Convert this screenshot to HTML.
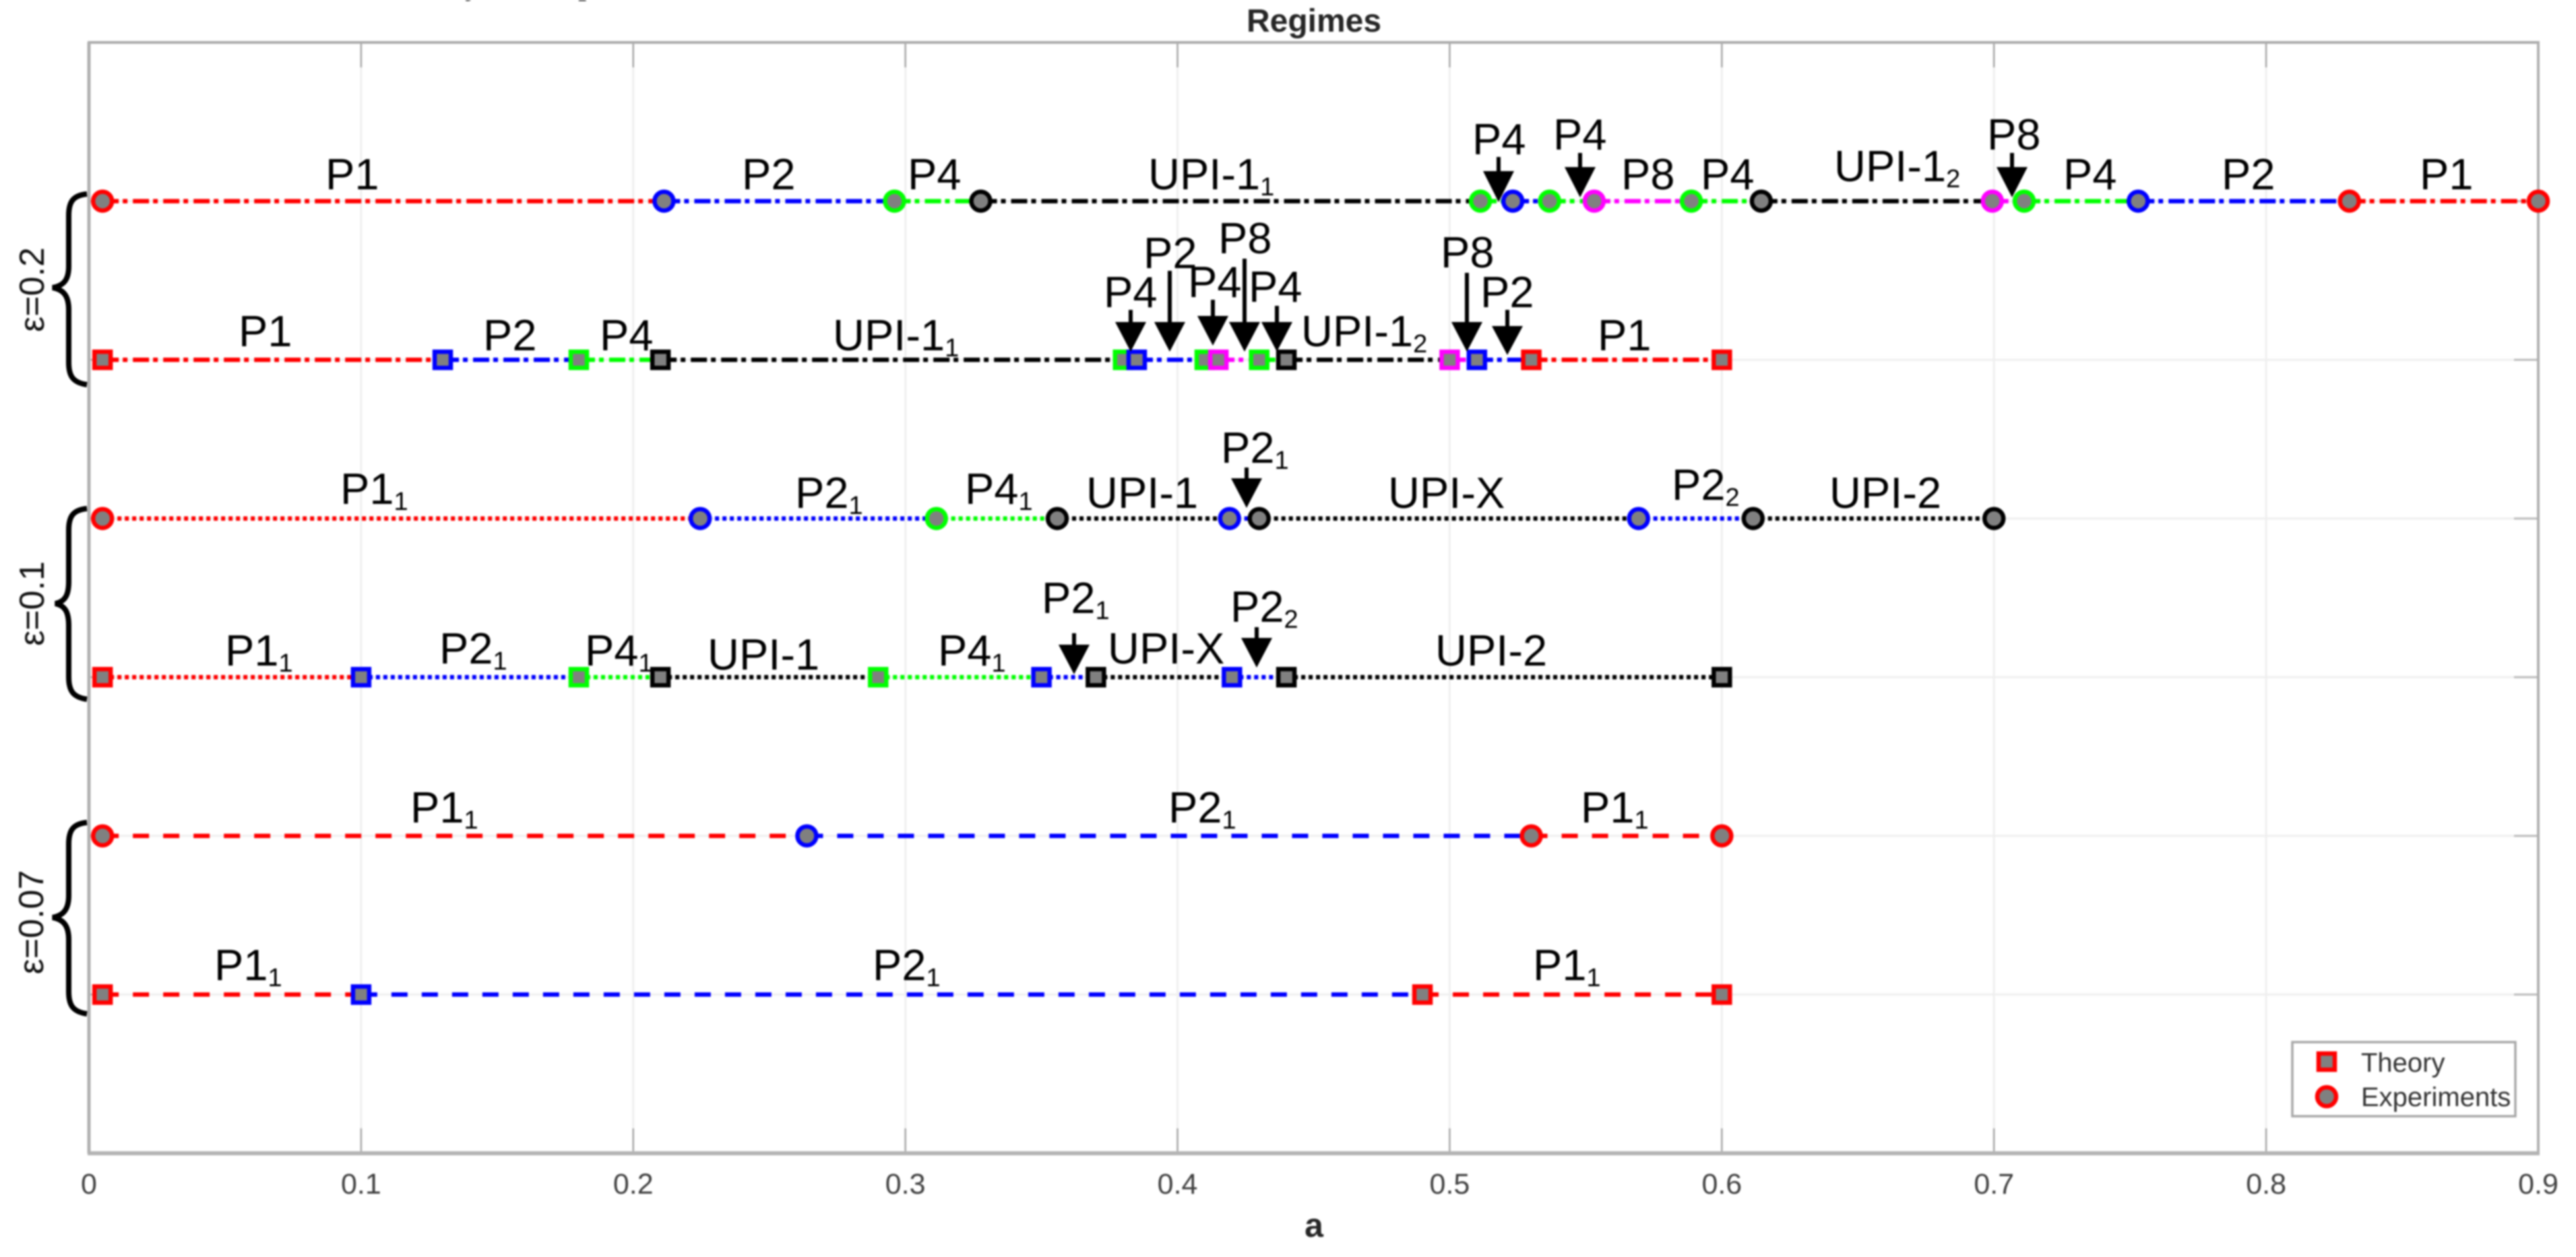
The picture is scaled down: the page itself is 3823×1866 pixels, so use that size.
<!DOCTYPE html>
<html>
<head>
<meta charset="utf-8">
<title>Regimes</title>
<style>
html,body{margin:0;padding:0;background:#fff;width:3823px;height:1866px;overflow:hidden}
svg{display:block;filter:blur(1.4px)}
text{font-family:"Liberation Sans",sans-serif}
.lab{font-size:65px;fill:#000}
.lab tspan{font-size:38px}
.eps{font-size:52px;fill:#111}
.leg{font-size:40px;fill:#333}
</style>
</head>
<body>
<svg id="chart" xmlns="http://www.w3.org/2000/svg" width="3823" height="1866" viewBox="0 0 3823 1866">
  <text x="690" y="-9" font-size="50" style="font-family:'Liberation Serif',serif">y</text>
  <text x="858" y="-9" font-size="50" style="font-family:'Liberation Serif',serif">p</text>
  <text x="1950" y="47" text-anchor="middle" font-size="48" font-weight="bold" fill="#262626">Regimes</text>
  <text x="1950" y="1836" text-anchor="middle" font-size="50" font-weight="bold" fill="#262626">a</text>

  <g id="gridLayer"></g>
  <g id="axisLayer"></g>
  <g id="seriesLayer"></g>

  <g fill="none" stroke="#000" stroke-width="8">
    <path d="M129 288C108 290 102 300 102 320L102 395C102 415 95 424 78 427C95 430 102 440 102 460L102 538C102 558 108 568 129 571"/>
    <path d="M129 755C108 757 102 767 102 787L102 863C102 883 97 893 82 896C97 899 102 909 102 929L102 1005C102 1025 108 1035 129 1038"/>
    <path d="M129 1221C108 1223 102 1233 102 1253L102 1329C102 1349 95 1359 78 1362C95 1365 102 1375 102 1395L102 1472C102 1492 108 1502 129 1505"/>
  </g>
  <text class="eps" transform="translate(65 430) rotate(-90)" text-anchor="middle">ε=0.2</text>
  <text class="eps" transform="translate(65 896) rotate(-90)" text-anchor="middle">ε=0.1</text>
  <text class="eps" transform="translate(64 1369) rotate(-90)" text-anchor="middle">ε=0.07</text>

  <g>
    <text class="lab" x="483" y="281">P1</text>
    <text class="lab" x="1101" y="281">P2</text>
    <text class="lab" x="1347" y="281">P4</text>
    <text class="lab" x="1704" y="281">UPI-1<tspan dy="9">1</tspan></text>
    <text class="lab" x="2185" y="229">P4</text>
    <text class="lab" x="2305" y="222">P4</text>
    <text class="lab" x="2406" y="281">P8</text>
    <text class="lab" x="2524" y="281">P4</text>
    <text class="lab" x="2722" y="269">UPI-1<tspan dy="9">2</tspan></text>
    <text class="lab" x="2949" y="222">P8</text>
    <text class="lab" x="3062" y="281">P4</text>
    <text class="lab" x="3297" y="281">P2</text>
    <text class="lab" x="3591" y="281">P1</text>

    <text class="lab" x="354" y="514">P1</text>
    <text class="lab" x="717" y="520">P2</text>
    <text class="lab" x="890" y="520">P4</text>
    <text class="lab" x="1236" y="520">UPI-1<tspan dy="9">1</tspan></text>
    <text class="lab" x="1638" y="456">P4</text>
    <text class="lab" x="1697" y="398">P2</text>
    <text class="lab" x="1763" y="441">P4</text>
    <text class="lab" x="1808" y="376">P8</text>
    <text class="lab" x="1853" y="448">P4</text>
    <text class="lab" x="1931" y="514">UPI-1<tspan dy="9">2</tspan></text>
    <text class="lab" x="2138" y="397">P8</text>
    <text class="lab" x="2197" y="456">P2</text>
    <text class="lab" x="2371" y="520">P1</text>

    <text class="lab" x="505" y="748">P1<tspan dy="9">1</tspan></text>
    <text class="lab" x="1180" y="754">P2<tspan dy="9">1</tspan></text>
    <text class="lab" x="1432" y="748">P4<tspan dy="9">1</tspan></text>
    <text class="lab" x="1612" y="754">UPI-1</text>
    <text class="lab" x="1812" y="687">P2<tspan dy="9">1</tspan></text>
    <text class="lab" x="2060" y="754">UPI-X</text>
    <text class="lab" x="2481" y="742">P2<tspan dy="9">2</tspan></text>
    <text class="lab" x="2715" y="754">UPI-2</text>

    <text class="lab" x="334" y="988">P1<tspan dy="9">1</tspan></text>
    <text class="lab" x="652" y="985">P2<tspan dy="9">1</tspan></text>
    <text class="lab" x="868" y="988">P4<tspan dy="9">1</tspan></text>
    <text class="lab" x="1050" y="994">UPI-1</text>
    <text class="lab" x="1392" y="988">P4<tspan dy="9">1</tspan></text>
    <text class="lab" x="1546" y="910">P2<tspan dy="9">1</tspan></text>
    <text class="lab" x="1644" y="985">UPI-X</text>
    <text class="lab" x="1826" y="923">P2<tspan dy="9">2</tspan></text>
    <text class="lab" x="2130" y="988">UPI-2</text>

    <text class="lab" x="609" y="1221">P1<tspan dy="9">1</tspan></text>
    <text class="lab" x="1734" y="1221">P2<tspan dy="9">1</tspan></text>
    <text class="lab" x="2346" y="1221">P1<tspan dy="9">1</tspan></text>

    <text class="lab" x="318" y="1455">P1<tspan dy="9">1</tspan></text>
    <text class="lab" x="1295" y="1455">P2<tspan dy="9">1</tspan></text>
    <text class="lab" x="2275" y="1455">P1<tspan dy="9">1</tspan></text>
  </g>

  <g fill="#000">
    <path d="M2221 233h6v21h20L2224 300L2201 254h20z"/>
    <path d="M2342 227h6v21h20L2345 293L2322 248h20z"/>
    <path d="M2983 227h6v21h20L2986 293L2963 248h20z"/>
    <path d="M1675 460h6v18h20L1678 522L1655 478h20z"/>
    <path d="M1733 402h6v76h20L1736 522L1713 478h20z"/>
    <path d="M1797 445h6v24h20L1800 513L1777 469h20z"/>
    <path d="M1844 384h6v94h20L1847 522L1824 478h20z"/>
    <path d="M1892 454h6v24h20L1895 522L1872 478h20z"/>
    <path d="M2174 405h6v73h20L2177 522L2154 478h20z"/>
    <path d="M2234 460h6v24h20L2237 527L2214 484h20z"/>
    <path d="M1847 694h6v16h20L1850 754L1827 710h20z"/>
    <path d="M1591 940h6v17h20L1594 1001L1571 957h20z"/>
    <path d="M1862 931h6v16h20L1865 991L1842 947h20z"/>
  </g>

  <g>
    <rect x="3402" y="1547" width="331" height="110" fill="#fff" stroke="#a8a8a8" stroke-width="3.5"/>
    <rect x="3441" y="1564" width="24" height="24" fill="#808080" stroke="#ff0000" stroke-width="6.5"/>
    <text class="leg" x="3504" y="1591">Theory</text>
    <circle cx="3453" cy="1628" r="14" fill="#808080" stroke="#ff0000" stroke-width="6.5"/>
    <text class="leg" x="3504" y="1642">Experiments</text>
  </g>
</svg>

<script>
// Axis values
const xTicks = [0, 0.1, 0.2, 0.3, 0.4, 0.5, 0.6, 0.7, 0.8, 0.9];
const xTickLabels = ['0', '0.1', '0.2', '0.3', '0.4', '0.5', '0.6', '0.7', '0.8', '0.9'];
const yLevels = [1, 2, 3, 4, 5, 6];

// eps=0.2 experiments (level 6)
const r1Breaks = [0.005, 0.2113, 0.296, 0.3277, 0.5113, 0.5232, 0.5367, 0.5531, 0.5888, 0.6145, 0.6994, 0.7111, 0.753, 0.8306, 0.9];
const r1Segments = ['red', 'blue', 'green', 'black', 'green', 'blue', 'green', 'magenta', 'green', 'black', 'magenta', 'green', 'blue', 'red'];
const r1Edges = ['red', 'blue', 'green', 'black', 'green', 'blue', 'green', 'magenta', 'green', 'black', 'magenta', 'green', 'blue', 'red', 'red'];

// eps=0.2 theory (level 5)
const r2Breaks = [0.005, 0.13, 0.18, 0.21, 0.38, 0.385, 0.41, 0.415, 0.43, 0.44, 0.5, 0.51, 0.53, 0.6];
const r2Segments = ['red', 'blue', 'green', 'black', 'green', 'blue', 'green', 'magenta', 'green', 'black', 'magenta', 'blue', 'red'];
const r2Edges = ['red', 'blue', 'green', 'black', 'green', 'blue', 'green', 'magenta', 'green', 'black', 'magenta', 'blue', 'red', 'red'];

// eps=0.1 experiments (level 4)
const r3Breaks = [0.005, 0.2246, 0.3114, 0.3558, 0.4191, 0.43, 0.5694, 0.6115, 0.7];
const r3Segments = ['red', 'blue', 'green', 'black', 'blue', 'black', 'blue', 'black'];
const r3Edges = ['red', 'blue', 'green', 'black', 'blue', 'black', 'blue', 'black', 'black'];

// eps=0.1 theory (level 3)
const r4Breaks = [0.005, 0.1, 0.18, 0.21, 0.29, 0.35, 0.37, 0.42, 0.44, 0.6];
const r4Segments = ['red', 'blue', 'green', 'black', 'green', 'blue', 'black', 'blue', 'black'];
const r4Edges = ['red', 'blue', 'green', 'black', 'green', 'blue', 'black', 'blue', 'black', 'black'];

// eps=0.07 experiments (level 2)
const r5Breaks = [0.005, 0.2638, 0.53, 0.6];
const r5Segments = ['red', 'blue', 'red'];
const r5Edges = ['red', 'blue', 'red', 'red'];

// eps=0.07 theory (level 1)
const r6Breaks = [0.005, 0.1, 0.49, 0.6];
const r6Segments = ['red', 'blue', 'red'];
const r6Edges = ['red', 'blue', 'red', 'red'];

const rowLevels = [6, 5, 4, 3, 2, 1];
const rowBreaks = [r1Breaks, r2Breaks, r3Breaks, r4Breaks, r5Breaks, r6Breaks];
const rowSegments = [r1Segments, r2Segments, r3Segments, r4Segments, r5Segments, r6Segments];
const rowEdges = [r1Edges, r2Edges, r3Edges, r4Edges, r5Edges, r6Edges];
const rowShapes = ['circle', 'square', 'circle', 'square', 'circle', 'square'];
const rowLines = ['dashdot', 'dashdot', 'dotted', 'dotted', 'dashed', 'dashed'];

// Axis functions
const X_MIN = 0, X_MAX = 0.9, Y_MIN = 0, Y_MAX = 7;
const LEFT = 132, RIGHT = 3767, TOP = 63, BOTTOM = 1712;
function sx(a) { return LEFT + (a - X_MIN) / (X_MAX - X_MIN) * (RIGHT - LEFT); }
function sy(l) { return BOTTOM - (l - Y_MIN) / (Y_MAX - Y_MIN) * (BOTTOM - TOP); }

const dashStyles = { dashdot: '24 6 7 8', dotted: '6 5', dashed: '24 21' };
const colorMap = { red: '#ff0000', blue: '#0000ff', green: '#00ff00', magenta: '#ff00ff', black: '#000000' };

const NS = 'http://www.w3.org/2000/svg';
function make(tag, parent, attrs) {
  const el = document.createElementNS(NS, tag);
  for (const k in attrs) el.setAttribute(k, attrs[k]);
  parent.appendChild(el);
  return el;
}
const grid = document.getElementById('gridLayer');
const axis = document.getElementById('axisLayer');
const series = document.getElementById('seriesLayer');

xTicks.forEach(function (t, i) {
  if (t > X_MIN && t < X_MAX) {
    const g = make('line', grid, { x1: sx(t), x2: sx(t), y1: TOP, y2: BOTTOM, stroke: '#efefef', 'stroke-width': 3 });
    
    
    const t1 = make('line', axis, { x1: sx(t), x2: sx(t), y1: TOP, y2: TOP + 37, stroke: '#a8a8a8', 'stroke-width': 2.5 });
    
    
    const t2 = make('line', axis, { x1: sx(t), x2: sx(t), y1: BOTTOM - 37, y2: BOTTOM, stroke: '#a8a8a8', 'stroke-width': 2.5 });
    
    
  }
  const lab = make('text', axis, { x: sx(t), y: 1772, 'text-anchor': 'middle', 'font-size': 43, fill: '#404040' });
  lab.textContent = xTickLabels[i];
  
  
});

yLevels.forEach(function (l) {
  const g = make('line', grid, { x1: LEFT, x2: RIGHT, y1: sy(l), y2: sy(l), stroke: '#efefef', 'stroke-width': 3 });
  
  
  const t1 = make('line', axis, { x1: LEFT, x2: LEFT + 36, y1: sy(l), y2: sy(l), stroke: '#bbbbbb', 'stroke-width': 3 });
  
  
  const t2 = make('line', axis, { x1: RIGHT - 36, x2: RIGHT, y1: sy(l), y2: sy(l), stroke: '#bbbbbb', 'stroke-width': 3 });
  
  
});

const frameTop = make('line', axis, { x1: LEFT - 2, x2: RIGHT + 2, y1: TOP, y2: TOP, stroke: '#ababab', 'stroke-width': 4 });


const frameBottom = make('line', axis, { x1: LEFT - 2, x2: RIGHT + 2, y1: BOTTOM, y2: BOTTOM, stroke: '#b4b4b4', 'stroke-width': 6 });


const frameLeft = make('line', axis, { x1: LEFT, x2: LEFT, y1: TOP, y2: BOTTOM, stroke: '#b0b0b0', 'stroke-width': 5 });


const frameRight = make('line', axis, { x1: RIGHT, x2: RIGHT, y1: TOP, y2: BOTTOM, stroke: '#b0b0b0', 'stroke-width': 4 });



rowLevels.forEach(function (level, r) {
  const y = sy(level);
  const breaks = rowBreaks[r];
  const group = make('g', series, {});
  
  
  rowSegments[r].forEach(function (c, i) {
    const seg = make('line', group, {
      x1: sx(breaks[i]), x2: sx(breaks[i + 1]), y1: y, y2: y,
      stroke: colorMap[c], 'stroke-width': 6.5, 'stroke-dasharray': dashStyles[rowLines[r]]
    });
    
    
  });
  breaks.forEach(function (a, i) {
    let mark;
    if (rowShapes[r] === 'circle') {
      mark = make('circle', group, { cx: sx(a), cy: y, r: 14, fill: '#808080', stroke: colorMap[rowEdges[r][i]], 'stroke-width': 6.5 });
    } else {
      mark = make('rect', group, { x: sx(a) - 12, y: y - 12, width: 24, height: 24, fill: '#808080', stroke: colorMap[rowEdges[r][i]], 'stroke-width': 6.5 });
    }
    
    
  });
});
</script>
</body>
</html>
